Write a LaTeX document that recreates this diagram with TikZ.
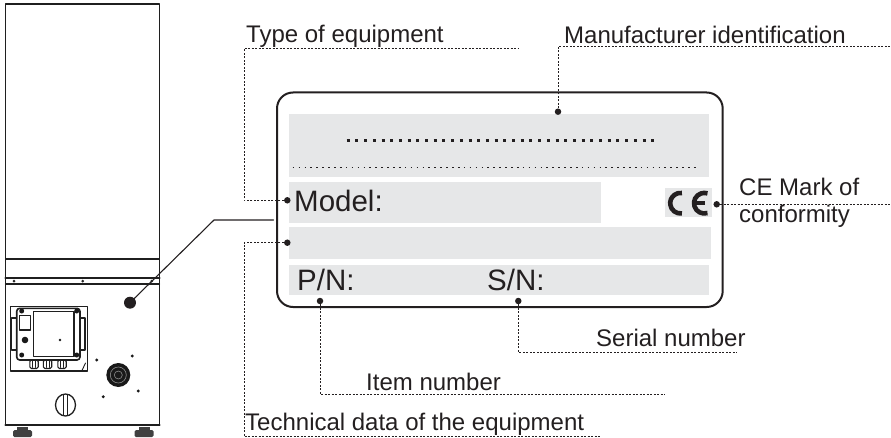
\documentclass[tikz,border=0pt]{standalone}
\usepackage{fontspec}
\setmainfont{Liberation Sans}
\usepackage{xcolor}
\usetikzlibrary{arrows}

\definecolor{fieldgray}{RGB}{230,231,232}
\definecolor{inkgray}{RGB}{35,31,32}

\begin{document}
\begin{tikzpicture}
	[line cap=round,line join=round,x=1pt,y=-1pt,
	tag/.style={anchor=base west,inner sep=0pt,text=inkgray,font=\fontsize{24}{27}\selectfont},
	entry/.style={anchor=base west,inner sep=0pt,text=inkgray,font=\fontsize{29.5}{32}\selectfont},
	field/.style={fill=fieldgray,anchor=north west,inner sep=0pt,outer sep=0pt},
	pin/.style={circle,fill=inkgray,inner sep=0pt,minimum size=6.5pt},
	lead/.style={line cap=butt,line width=0.9pt,dash pattern=on 2pt off 1.5pt,draw=inkgray},
	unit/.style={line width=1.3pt,draw=black!88}]
	\useasboundingbox (0,0) rectangle (891,438);
	% equipment
	\draw[unit] (5.5,4) rectangle (159.5,259);
	\draw[unit] (5.5,259) -- (5.5,425) (159.5,259) -- (159.5,425);
	\draw[unit,line width=2.2pt] (5.5,278) -- (159.5,278);
	\draw[unit] (5.5,284) -- (159.5,284);
	\draw[unit,line width=2.2pt] (5.5,425) -- (159.5,425);
	\foreach \x in {14,82.7,151.7}
		\fill[black!85] (\x,281.2) circle (1.5);
	\foreach \x in {22.5,144}
		{\fill[black!75] (\x-5.5,426.5) rectangle (\x+5.5,430.5);
		\fill[black!75,rounded corners=1.5] (\x-9.5,430) rectangle (\x+9.5,437);}
	\draw[unit,line width=1.1pt] (10.7,306.7) rectangle (87.3,371);
	\draw[unit,line width=1.6pt,rounded corners=3] (16.7,308.3) rectangle (80,360);
	\draw[unit,line width=1.1pt] (33.3,311.7) rectangle (74,356.7);
	\draw[unit,line width=1.1pt] (19.3,315.7) rectangle (30.7,330);
	\draw[unit,line width=1.1pt] (11.7,318) rectangle (16.7,350) (80,318) rectangle (85,350);
	\foreach \x/\y in {21.7/311,76.7/311,21.7/355,76.7/355}
		\fill[black!90] (\x,\y) circle (2.5);
	\fill[black!90] (25,340) circle (3.3);
	\fill[black!90] (60,340) circle (1.4);
	\foreach \x in {34,47.5,62}
		{\draw[unit,line width=1.1pt,rounded corners=1.5] (\x-4.2,360) rectangle (\x+4.2,368.5);
		\draw[unit,line width=0.8pt] (\x-1.4,361) -- (\x-1.4,367.5) (\x+1.4,361) -- (\x+1.4,367.5);}
	\draw[unit,line width=0.9pt] (82,370.5) -- (85.5,363);
	\fill[black!90] (118.3,375) circle (12);
	\draw[black!45,line width=0.6pt] (118.3,375) circle (8);
	\draw[black!45,line width=0.6pt] (118.3,375) circle (4);
	\draw[unit] (65.5,405) ellipse (10 and 11);
	\draw[unit,line width=1pt] (63.3,395) -- (63.3,415) (67.7,395) -- (67.7,415);
	\foreach \x/\y in {96.7/360,132.3/356,138.3/391,103.3/396.7}
		\fill[black!90] (\x,\y) circle (1.6);
	\node[pin,minimum size=12pt] (pUnit) at (130,302.7) {};
	\coordinate (kUnit) at (214,220);
	\coordinate (eUnit) at (273.5,220);
	\draw[line width=1.1pt,inkgray] (pUnit.center) -- (kUnit) -- (eUnit);
	% rating plate
	\draw[line width=2pt,draw=inkgray,rounded corners=16] (277,92.5) rectangle (722.7,307);
	\node[field,minimum width=420pt,minimum height=63pt] (fMan) at (289,114) {};
	\node[field,minimum width=312pt,minimum height=41.6pt] (fModel) at (289,181.7) {};
	\node[field,minimum width=46.7pt,minimum height=28.4pt] (fCE) at (665,188.3) {};
	\node[field,minimum width=422pt,minimum height=32pt] (fTech) at (289,226.7) {};
	\node[field,minimum width=420pt,minimum height=30pt] (fNum) at (289,265) {};
	\draw[line cap=butt,line width=3pt,dash pattern=on 3pt off 5.7pt,inkgray] (346.7,141) -- (658,141);
	\draw[line cap=butt,line width=1.6pt,dash pattern=on 1.6pt off 4.3pt,inkgray] (292.7,167.7) -- (699,167.7);
	\draw[line cap=butt,line width=4.6pt,inkgray] ([shift={(82:10.3)}]680.5,203.2) arc (82:278:10.3);
	\draw[line cap=butt,line width=4.6pt,inkgray] ([shift={(72:10.3)}]704.3,203.2) arc (72:288:10.3);
	\draw[line cap=butt,line width=3.6pt,inkgray] (694,203.2) -- (704.5,203.2);
	\node[entry] (tModel) at (294,211.8) {Model:};
	\node[entry] (tPN) at (297,290.7) {P/N:};
	\node[entry] (tSN) at (487,290.7) {S/N:};
	% pins and leaders
	\node[pin] (pMan) at (558,111.7) {};
	\node[pin] (pModel) at (287.3,200.3) {};
	\node[pin] (pCE) at (716.7,204.3) {};
	\node[pin] (pTech) at (287.3,242.7) {};
	\node[pin] (pPN) at (320,301) {};
	\node[pin] (pSN) at (518.3,301) {};
	\coordinate (uType) at (244,48.3);
	\coordinate (eType) at (518,48.3);
	\coordinate (uMan) at (558,46.5);
	\coordinate (eMan) at (891,46.5);
	\coordinate (eCE) at (891,204.3);
	\coordinate (cTech) at (244,436.7);
	\coordinate (eTech) at (600,436.7);
	\coordinate (eItem) at (665,394.3);
	\coordinate (eSer) at (737,352.3);
	\draw[lead] (pModel) -| (uType) -- (eType);
	\draw[lead] (pMan) -- (uMan) -- (eMan);
	\draw[lead] (pCE) -- (eCE);
	\draw[lead] (pTech) -| (cTech) -- (eTech);
	\draw[lead] (pPN) |- (eItem);
	\draw[lead] (pSN) |- (eSer);
	\node[tag] (tType) at (246,43) {Type of equipment};
	\node[tag] (tMan) at (564,43.3) {Manufacturer identification};
	\node[tag] (tCE) at (739,196) {CE Mark of};
	\node[tag] (tConf) at (739,223) {conformity};
	\node[tag] (tSer) at (596,346.7) {Serial number};
	\node[tag] (tItem) at (366,390) {Item number};
	\node[tag] (tTech) at (245,430.5) {Technical data of the equipment};
\end{tikzpicture}
\end{document}
